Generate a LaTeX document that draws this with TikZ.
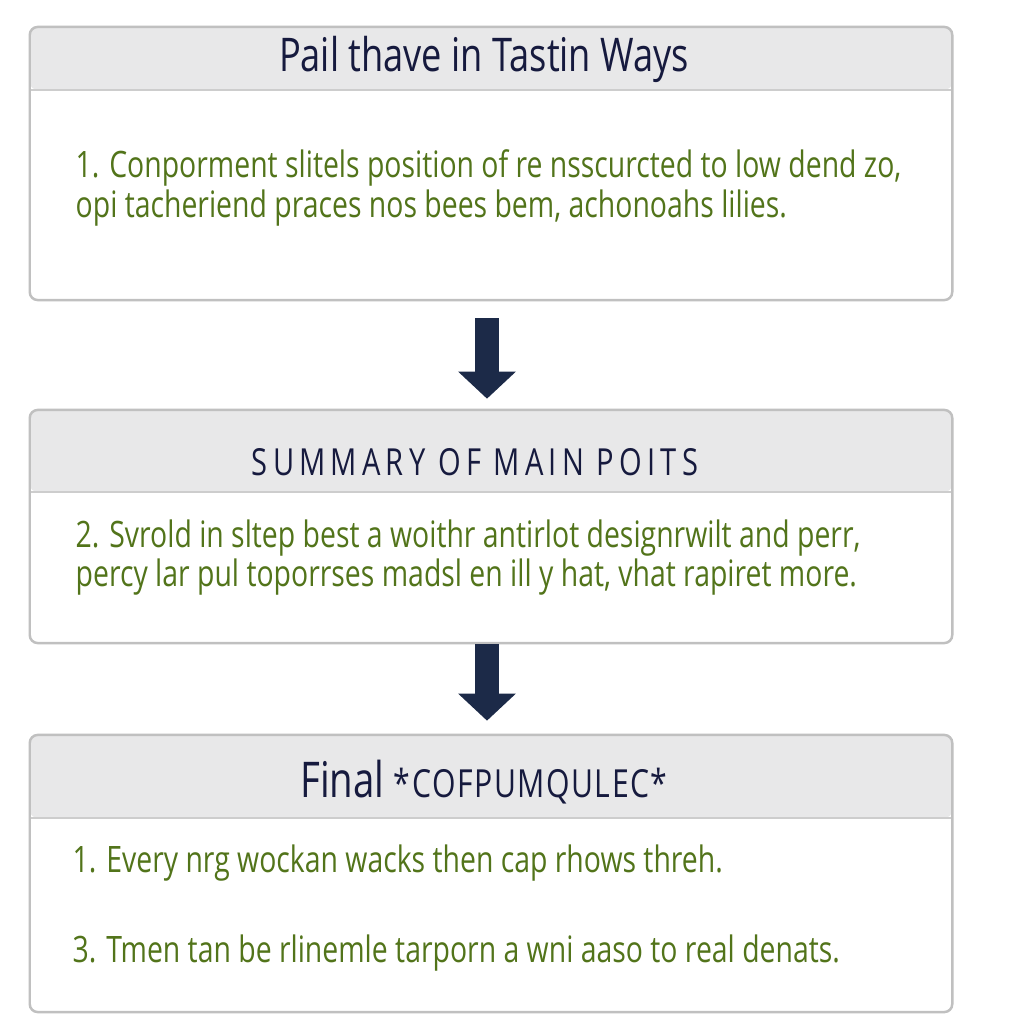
\documentclass[tikz,border=0pt]{standalone}
\usepackage{fontspec}
\setmainfont{Open Sans}
\newfontfamily\panelfont{Open Sans}[FakeStretch=0.78]
\usepackage{xcolor}
\usepackage{tikz}
\usetikzlibrary{arrows.meta, positioning}

\definecolor{panelborder}{RGB}{192,192,192}
\definecolor{headfill}{RGB}{232,232,233}
\definecolor{headline}{RGB}{205,205,205}
\definecolor{titlenavy}{RGB}{22,26,62}
\definecolor{bodygreen}{RGB}{82,116,26}
\definecolor{arrownavy}{RGB}{28,42,72}

\begin{document}
\begin{tikzpicture}[
        x=0.01cm, y=-0.01cm,
        panel/.style={
            rectangle,
            draw=panelborder,
            line width=0.7pt,
            rounded corners=0.08cm,
            fill=white,
            minimum width=9.22cm,
            inner sep=0pt,
            path picture={
                \fill[headfill] (path picture bounding box.north west)
                    rectangle ([yshift=-#1]path picture bounding box.north east);
                \draw[headline, line width=0.45pt]
                    ([yshift=-#1]path picture bounding box.north west) --
                    ([yshift=-#1]path picture bounding box.north east);
            }
        },
        title/.style={
            text=titlenavy,
            inner sep=0pt,
            font=\panelfont\fontsize{13.2pt}{15pt}\selectfont
        },
        point/.style={
            text=bodygreen,
            inner sep=0pt,
            anchor=mid west,
            font=\panelfont\fontsize{10.35pt}{12pt}\selectfont
        },
        flowarrow/.style={
            draw=arrownavy,
            line width=0.23cm,
            -{Triangle[length=0.27cm, width=0.56cm]}
        }
    ]
        \useasboundingbox[fill=white] (0,0) rectangle (1024,1024);

        % Panels
        \node[panel=0.63cm, minimum height=2.73cm] (box1) at (491,163.5) {};
        \node[panel=0.82cm, minimum height=2.33cm] (box2) at (491,526.5) {};
        \node[panel=0.83cm, minimum height=2.77cm] (box3) at (491,873.5) {};

        % Titles
        \node[title] (title1) at (484,59) {Pail thave in Tastin Ways};
        \node[title, font=\panelfont\fontsize{10.6pt}{12pt}\selectfont\addfontfeature{LetterSpace=14}]
            (title2) at (475,462) {SUMMARY OF MAIN POITS};
        \node[title] (title3) at (484,782) {{\fontsize{14pt}{16pt}\selectfont Final}
            {\fontsize{11pt}{13pt}\selectfont\addfontfeature{LetterSpace=4}*COFPUMQULEC*}};

        % Points
        \node[point] (p11) at (75,168) {1. Conporment slitels position of re nsscurcted to low dend zo,};
        \node[point] (p12) at (75,208) {opi tacheriend praces nos bees bem, achonoahs lilies.};
        \node[point] (p21) at (75,538) {2. Svrold in sltep best a woithr antirlot designrwilt and perr,};
        \node[point] (p22) at (75,577) {percy lar pul toporrses madsl en ill y hat, vhat rapiret more.};
        \node[point] (p31) at (72,863) {1. Every nrg wockan wacks then cap rhows threh.};
        \node[point] (p32) at (72,953) {3. Tmen tan be rlinemle tarporn a wni aaso to real denats.};

        % Arrows
        \draw[flowarrow, shorten <=0.17cm, shorten >=0.10cm]
            ([xshift=-0.04cm]box1.south) -- ([xshift=-0.04cm]box2.north);
        \draw[flowarrow, shorten <=0cm, shorten >=0.13cm]
            ([xshift=-0.04cm]box2.south) -- ([xshift=-0.04cm]box3.north);

    \end{tikzpicture}
\end{document}
